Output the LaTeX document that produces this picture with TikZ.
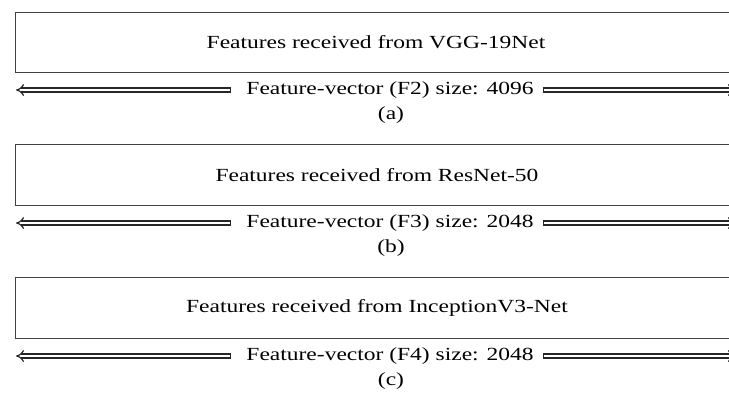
\documentclass[tikz,border=0pt]{standalone}
\usepackage{fontspec}
\setmainfont{Liberation Serif}[FakeStretch=1.27]
\usetikzlibrary{arrows.meta}
\tikzset{
  featbox/.style={draw=black!75, line width=0.9pt},
  boxtext/.style={font=\fontsize{18.5}{22}\selectfont, inner sep=0pt},
  vectext/.style={font=\fontsize{18.5}{22}\selectfont, inner sep=0pt},
  captext/.style={font=\fontsize{18.5}{22}\selectfont, inner sep=0pt},
  dblarrow/.style={draw=black!85, line width=1.2pt, double, double distance=2.8pt, -{Implies}},
  endcap/.style={draw=black!85, line width=1.2pt},
}
\newcommand{\vecarrows}[3]{%
  \draw[dblarrow] (#1.west) ++(-16,0) coordinate (#1l) -- (#2);
  \draw[dblarrow] (#1.east) ++(10,0) coordinate (#1r) -- (#3);
  \draw[endcap] (#1l) ++(0,-2.6) -- ++(0,5.2);
  \draw[endcap] (#1r) ++(0,-2.6) -- ++(0,5.2);
}
\begin{document}
\begin{tikzpicture}[x=1pt,y=-1pt]
\useasboundingbox (0,0) rectangle (729,392);
\clip (0,0) rectangle (729,392);
% (a)
\draw[featbox] (15,12) rectangle (745,72);
\node[boxtext] (ta) at (376,42) {Features received from VGG-19Net};
\node[vectext] (va) at (390,90) {Feature-vector (F2) size: 4096};
\coordinate (la) at (16,90);
\coordinate (ra) at (736,90);
\vecarrows{va}{la}{ra}
\node[captext] (ca) at (391,115) {(a)};
% (b)
\draw[featbox] (15,144) rectangle (745,205);
\node[boxtext] (tb) at (377,175) {Features received from ResNet-50};
\node[vectext] (vb) at (390,223) {Feature-vector (F3) size: 2048};
\coordinate (lb) at (16,223);
\coordinate (rb) at (736,223);
\vecarrows{vb}{lb}{rb}
\node[captext] (cb) at (391,248) {(b)};
% (c)
\draw[featbox] (15,277) rectangle (745,338);
\node[boxtext] (tc) at (377,308) {Features received from InceptionV3-Net};
\node[vectext] (vc) at (390,356) {Feature-vector (F4) size: 2048};
\coordinate (lc) at (16,356);
\coordinate (rc) at (736,356);
\vecarrows{vc}{lc}{rc}
\node[captext] (cc) at (391,381) {(c)};
\end{tikzpicture}
\end{document}
